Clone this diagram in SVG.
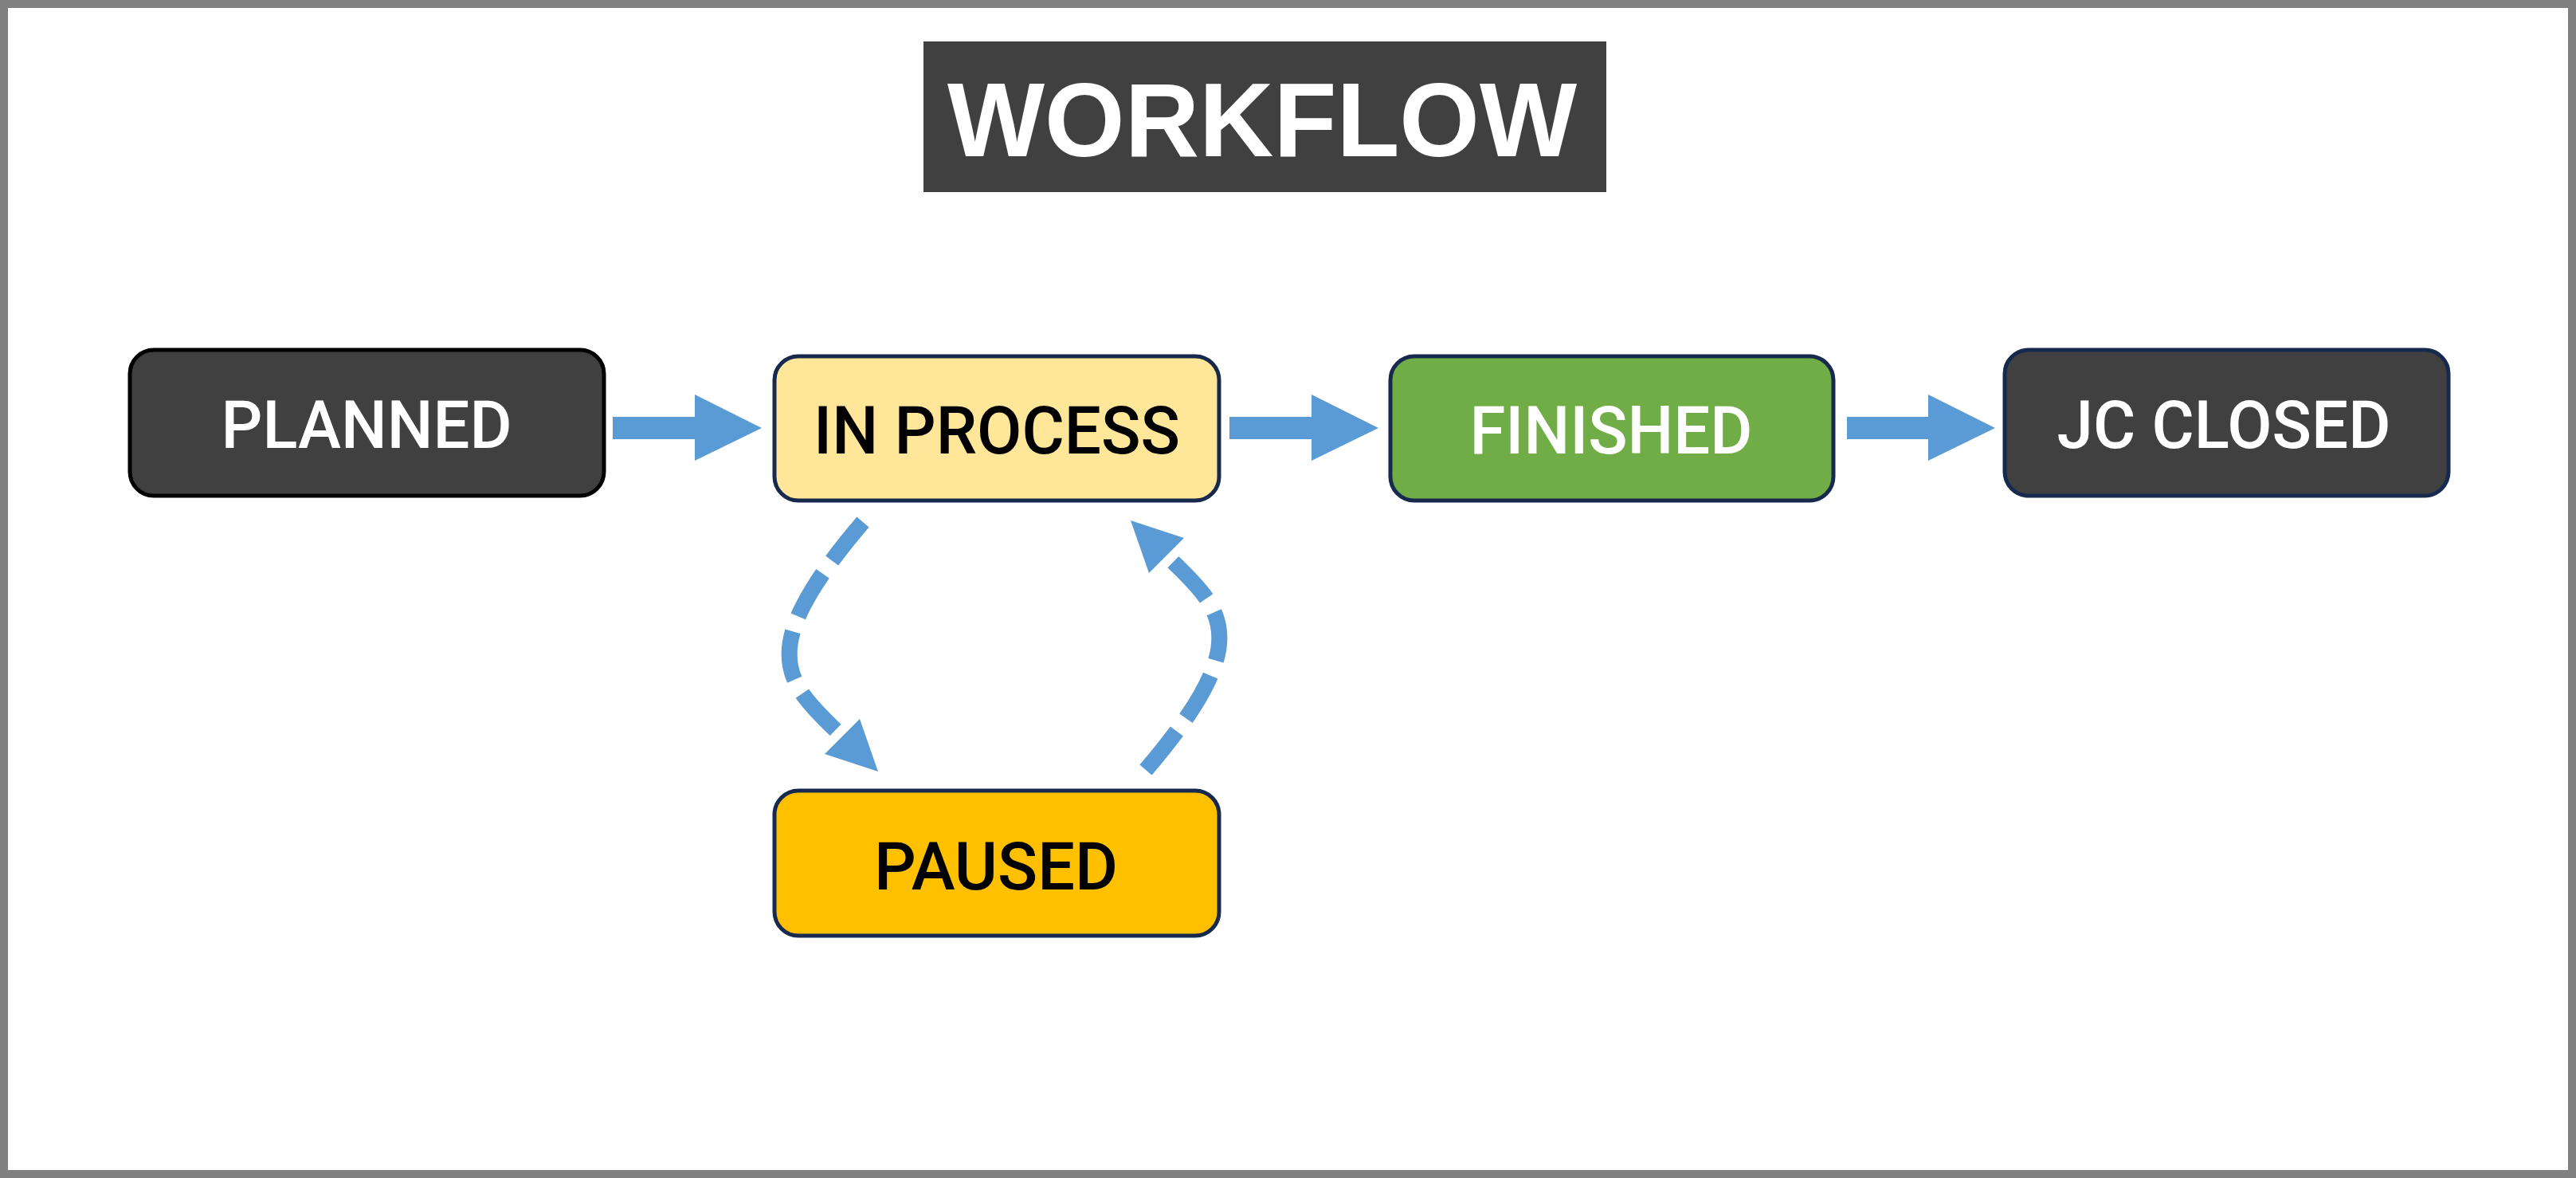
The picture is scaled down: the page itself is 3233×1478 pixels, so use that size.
<svg xmlns="http://www.w3.org/2000/svg" width="3233" height="1478" viewBox="0 0 3233 1478">
<style>
.node{stroke:#172a4e;stroke-width:5}
.lbl{font-family:Roboto,"Liberation Sans",Arial,sans-serif;font-weight:500;font-size:84px;text-anchor:middle}
.blk{fill:#5b9bd5}
.dash{fill:none;stroke:#5b9bd5;stroke-width:20;stroke-dasharray:62 20}
</style>
<rect x="5" y="5" width="3223" height="1468" fill="#ffffff" stroke="#808080" stroke-width="10"/>
<g id="title">
<rect x="1159" y="52" width="857" height="189" fill="#404040"/>
<text x="1584" y="196" font-family="'Liberation Sans',Arial,sans-serif" font-weight="bold" font-size="131" fill="#ffffff" text-anchor="middle" textLength="790" lengthAdjust="spacingAndGlyphs">WORKFLOW</text>
</g>
<g id="connectors">
<polygon class="blk" points="769,523 872,523 872,495 956,537 872,578 872,551 769,551"/>
<polygon class="blk" points="1543,523 1646,523 1646,495 1730,537 1646,578 1646,551 1543,551"/>
<polygon class="blk" points="2318,523 2420,523 2420,495 2504,537 2420,578 2420,551 2318,551"/>
<path class="dash" d="M1083,655 C944,818 985,855 1055,922"/>
<polygon class="blk" points="1079,902 1035,946 1102,968"/>
<path class="dash" d="M1438,966 C1577,803 1536,766 1466,699"/>
<polygon class="blk" points="1442,719 1486,675 1419,653"/>
</g>
<g id="planned">
<rect x="163" y="439" width="595" height="183" rx="30" fill="#404040" stroke="#000000" stroke-width="5"/>
<text class="lbl" x="460" y="562" fill="#ffffff" textLength="365" lengthAdjust="spacingAndGlyphs">PLANNED</text>
</g>
<g id="in-process">
<rect class="node" x="972" y="447" width="558" height="181" rx="30" fill="#ffe699"/>
<text class="lbl" x="1251" y="569" fill="#000000" textLength="460" lengthAdjust="spacingAndGlyphs">IN PROCESS</text>
</g>
<g id="finished">
<rect class="node" x="1745" y="447" width="556" height="181" rx="30" fill="#70ad47"/>
<text class="lbl" x="2022" y="569" fill="#ffffff" textLength="355" lengthAdjust="spacingAndGlyphs">FINISHED</text>
</g>
<g id="jc-closed">
<rect class="node" x="2516" y="439" width="557" height="183" rx="30" fill="#404040"/>
<text class="lbl" x="2791" y="562" fill="#ffffff" textLength="419" lengthAdjust="spacingAndGlyphs">JC CLOSED</text>
</g>
<g id="paused">
<rect class="node" x="972" y="992" width="558" height="182" rx="30" fill="#ffc000"/>
<text class="lbl" x="1250" y="1116" fill="#000000" textLength="306" lengthAdjust="spacingAndGlyphs">PAUSED</text>
</g>
</svg>
